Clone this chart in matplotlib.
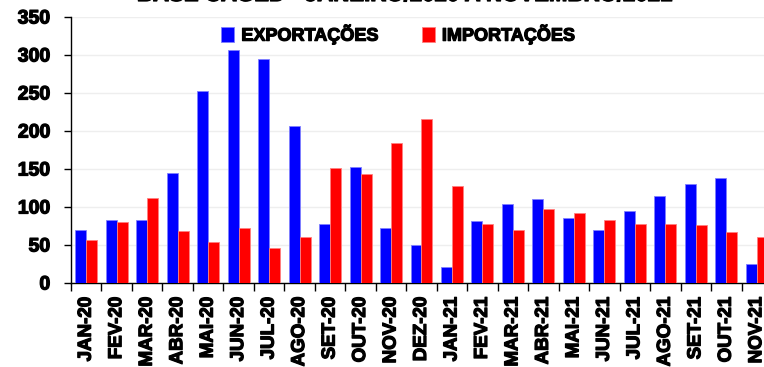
import matplotlib
matplotlib.use("Agg")
import matplotlib.pyplot as plt
import matplotlib.patheffects as pe
import numpy as np

categories = ["JAN-20", "FEV-20", "MAR-20", "ABR-20", "MAI-20", "JUN-20", "JUL-20", "AGO-20",
              "SET-20", "OUT-20", "NOV-20", "DEZ-20", "JAN-21", "FEV-21", "MAR-21", "ABR-21",
              "MAI-21", "JUN-21", "JUL-21", "AGO-21", "SET-21", "OUT-21", "NOV-21"]
exportacoes = [70, 83, 83, 145, 252, 307, 295, 207, 78, 153, 72, 50, 21, 82, 104, 110, 86, 70, 95, 114, 130, 138, 25]
importacoes = [57, 80, 112, 68, 54, 72, 46, 60, 151, 144, 184, 216, 128, 78, 70, 97, 92, 83, 77, 77, 76, 67, 60]
yticks = [0, 50, 100, 150, 200, 250, 300, 350]
title = "BASE CAGED - JANEIRO/2020 A NOVEMBRO/2021"

plt.rcParams['font.family'] = ['Liberation Sans', 'DejaVu Sans']
heavy = [pe.withStroke(linewidth=0.9, foreground='black')]

fig = plt.figure(figsize=(7.64, 3.67), dpi=100)
ax = fig.add_axes([71/764, 84/367, 701/764, 266/367])

x = np.arange(len(categories))
w = 0.36
ax.bar(x - w/2, exportacoes, width=w, color='#0000ff', edgecolor='#8080ff', linewidth=0.6,
       label='EXPORTAÇÕES', zorder=3)
ax.bar(x + w/2, importacoes, width=w, color='#ff0000', edgecolor='#ff8080', linewidth=0.6,
       label='IMPORTAÇÕES', zorder=3)

ax.set_xlim(-0.5, len(categories) - 0.5)
ax.set_ylim(0, 350)
ax.set_yticks(yticks)
ax.set_yticklabels([str(v) for v in yticks], fontsize=14, fontweight='bold')
ax.grid(axis='y', color='#eeeeee', linewidth=1, zorder=0)

ax.set_xticks(np.arange(len(categories) + 1) - 0.5, minor=False)
ax.set_xticklabels([])
ax.set_xticks(x, minor=True)
ax.set_xticklabels(categories, minor=True, rotation=90, fontsize=13.5, fontweight='bold')
ax.tick_params(axis='x', which='minor', length=0, pad=10)
ax.tick_params(axis='x', which='major', length=6, width=1, direction='out')
ax.tick_params(axis='y', length=5, width=1, pad=10)

for lbl in ax.get_xticklabels(minor=True) + ax.get_yticklabels():
    lbl.set_path_effects(heavy)

for s in ['top', 'right']:
    ax.spines[s].set_visible(False)
ax.spines['left'].set_linewidth(1)
ax.spines['bottom'].set_linewidth(1)

leg = ax.legend(loc='center', bbox_to_anchor=(0.467, 0.935), ncol=2, frameon=False,
                prop={'weight': 'bold', 'size': 13}, handlelength=0.7, handleheight=0.9,
                handletextpad=0.4, columnspacing=2.4)
for t in leg.get_texts():
    t.set_path_effects(heavy)

fig.text(0.530, 1 - 1/367, title, ha='center', va='baseline', fontsize=16, fontweight='bold',
         path_effects=heavy)

fig.savefig('out.png', dpi=100)
